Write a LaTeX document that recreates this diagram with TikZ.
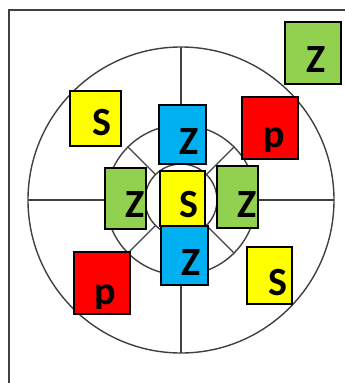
\documentclass[tikz,border=0pt]{standalone}
\usepackage{fontspec}
\newfontfamily\boxfont{Carlito}
\definecolor{cgreen}{HTML}{92D050}
\definecolor{cyellow}{HTML}{FFFF00}
\definecolor{cred}{HTML}{FF0000}
\definecolor{cblue}{HTML}{00B0F0}
\definecolor{cline}{HTML}{404040}
\tikzset{
  ring/.style={draw=cline, line width=1.4pt},
  frameline/.style={draw=cline, line width=1.6pt},
  tile/.style={draw=black, line width=1.5pt, minimum width=#1, inner sep=0pt, outer sep=0pt},
  letter/.style={font=\boxfont\bfseries\fontsize{40}{40}\selectfont, inner sep=0pt, text=black}
}
\begin{document}
\begin{tikzpicture}[x=1pt,y=-1pt]
\useasboundingbox (0,0) rectangle (345,383);
% frame
\coordinate (fa) at (9,383);
\coordinate (fb) at (9,10);
\coordinate (fc) at (345,10);
\draw[frameline] (fa) -- (fb) -- (fc);
% target
\coordinate (c) at (181,200);
\draw[ring] (c) circle[radius=153pt];
\draw[ring] (c) circle[radius=75pt];
\draw[ring] (c) circle[radius=36pt];
\foreach \a in {0,90,180,270}
  \draw[ring] ([shift={(c)}]\a:75pt) -- ([shift={(c)}]\a:153pt);
\foreach \a in {45,135,225,315}
  \draw[ring] ([shift={(c)}]\a:36pt) -- ([shift={(c)}]\a:75pt);
% tiles
\node[tile=56pt, minimum height=62pt, fill=cgreen] (g1) at (313,53) {};
\node[letter] (g1t) at (316,60) {Z};
\node[tile=51pt, minimum height=55pt, fill=cyellow] (y1) at (95.5,118.5) {};
\node[letter] (y1t) at (102,123) {S};
\node[tile=56pt, minimum height=62pt, fill=cred] (r1) at (270,128) {};
\begin{scope}
  \clip (245,100) rectangle (296,151);
  \node[letter, anchor=base] (r1t) at (274,147) {p};
\end{scope}
\node[tile=47pt, minimum height=59pt, fill=cblue] (b1) at (182.5,134.5) {};
\node[letter] (b1t) at (189,142) {Z};
\node[tile=41pt, minimum height=61pt, fill=cgreen] (g2) at (125.5,198.5) {};
\node[letter] (g2t) at (135,205) {Z};
\node[tile=45pt, minimum height=55pt, fill=cyellow] (y2) at (182.5,198.5) {};
\node[letter] (y2t) at (189,205) {S};
\node[tile=41pt, minimum height=62pt, fill=cgreen] (g3) at (237.5,197) {};
\node[letter] (g3t) at (247,205) {Z};
\node[tile=47pt, minimum height=59pt, fill=cblue] (b2) at (184.5,255.5) {};
\node[letter] (b2t) at (191,263) {Z};
\node[tile=56pt, minimum height=62pt, fill=cred] (r2) at (102,283) {};
\begin{scope}
  \clip (77,255) rectangle (128,308);
  \node[letter, anchor=base] (r2t) at (105,304) {p};
\end{scope}
\node[tile=45pt, minimum height=57pt, fill=cyellow] (y3) at (269.5,275.5) {};
\node[letter] (y3t) at (278,283) {S};
\end{tikzpicture}
\end{document}
